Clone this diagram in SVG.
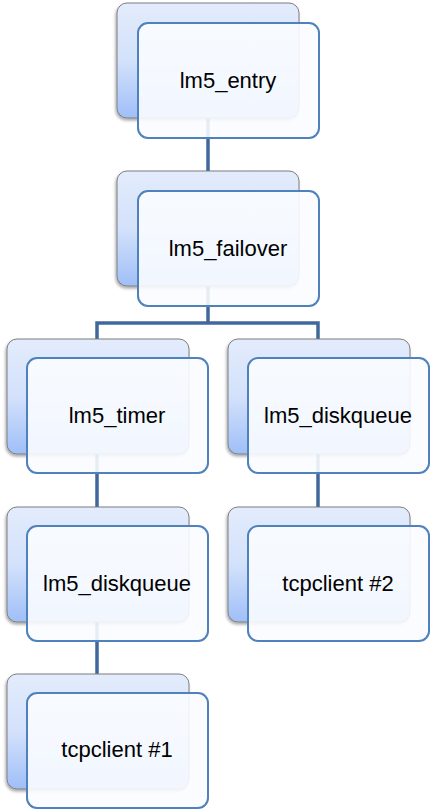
<svg xmlns="http://www.w3.org/2000/svg" width="434" height="809" viewBox="0 0 434 809">
<style>
.back{fill:url(#g);stroke:#7f7f7f;stroke-width:1;filter:url(#sh)}
.front{fill:#fafcff;fill-opacity:0.9;stroke:#4f81bd;stroke-width:2}
.lbl{font-family:"Liberation Sans",Arial,sans-serif;font-size:22px;fill:#000;text-anchor:middle}
.conn{fill:none;stroke:#41689c;stroke-width:3.5}
</style>
<defs>
<linearGradient id="g" x1="0" y1="0" x2="0" y2="1">
<stop offset="0" stop-color="#e3ecfc"/>
<stop offset="0.5" stop-color="#d3e1fb"/>
<stop offset="1" stop-color="#9fbff8"/>
</linearGradient>
<filter id="sh" x="-10%" y="-10%" width="130%" height="130%">
<feDropShadow dx="-1" dy="2" stdDeviation="1.5" flood-color="#000" flood-opacity="0.35"/>
</filter>
</defs>
<g id="connectors">
<path class="conn" d="M208 118V171"/>
<path class="conn" d="M208 286V323M97 339V323H318V339"/>
<path class="conn" d="M97 453V507"/>
<path class="conn" d="M318 453V507"/>
<path class="conn" d="M97 621V674"/>
</g>
<g id="lm5_entry">
<rect class="back" x="117" y="3" width="182" height="115" rx="10"/>
<rect class="front" x="138" y="23" width="181" height="115" rx="10"/>
<text class="lbl" x="228" y="88">lm5_entry</text>
</g>
<g id="lm5_failover">
<rect class="back" x="117" y="171" width="182" height="115" rx="10"/>
<rect class="front" x="138" y="191" width="181" height="115" rx="10"/>
<text class="lbl" x="228" y="256">lm5_failover</text>
</g>
<g id="lm5_timer">
<rect class="back" x="7" y="339" width="182" height="115" rx="10"/>
<rect class="front" x="27" y="358" width="181" height="115" rx="10"/>
<text class="lbl" x="117" y="423">lm5_timer</text>
</g>
<g id="lm5_diskqueue_right">
<rect class="back" x="228" y="339" width="182" height="115" rx="10"/>
<rect class="front" x="248" y="358" width="181" height="115" rx="10"/>
<text class="lbl" x="338" y="423">lm5_diskqueue</text>
</g>
<g id="lm5_diskqueue_left">
<rect class="back" x="7" y="507" width="182" height="115" rx="10"/>
<rect class="front" x="27" y="526" width="181" height="115" rx="10"/>
<text class="lbl" x="117" y="591">lm5_diskqueue</text>
</g>
<g id="tcpclient2">
<rect class="back" x="228" y="507" width="182" height="115" rx="10"/>
<rect class="front" x="248" y="526" width="181" height="115" rx="10"/>
<text class="lbl" x="338" y="591">tcpclient #2</text>
</g>
<g id="tcpclient1">
<rect class="back" x="7" y="674" width="182" height="115" rx="10"/>
<rect class="front" x="27" y="693" width="181" height="115" rx="10"/>
<text class="lbl" x="117" y="757">tcpclient #1</text>
</g>
</svg>
